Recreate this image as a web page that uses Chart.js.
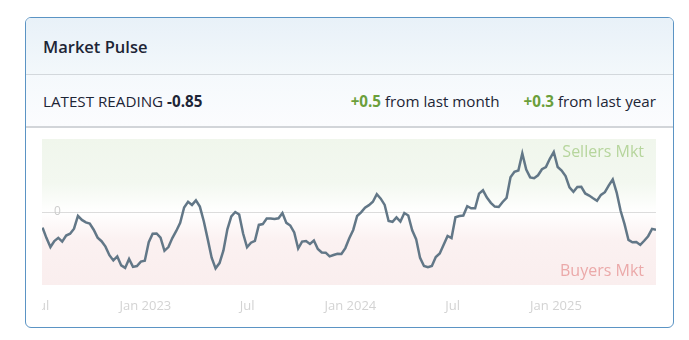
<!DOCTYPE html>
<html>
<head>
<meta charset="utf-8">
<script src="https://cdn.jsdelivr.net/npm/chart.js@4.4.1/dist/chart.umd.min.js"></script>
<style>
  html, body { margin: 0; padding: 0; background: #ffffff; font-family: 'Open Sans', sans-serif; }
  .card { position: absolute; left: 25px; top: 17px; width: 647px; height: 309px;
          border: 1px solid #5b94c4; border-radius: 6px; overflow: hidden; background: #ffffff; }
  .head { position: absolute; left: 0; top: 0; width: 647px; height: 56px;
          background: linear-gradient(#e8f1f8, #f3f8fb); border-bottom: 1px solid #d3d8dc;
          display: flex; align-items: center; box-sizing: content-box; }
  .head span { padding-left: 17px; font-size: 16.5px; font-weight: 600; color: #1d2536; }
  .stats { position: absolute; left: 0; top: 57px; width: 647px; height: 51px;
           background: linear-gradient(#f5f9fc, #fbfcfe); border-bottom: 2px solid #d2d5d9;
           display: flex; align-items: center; justify-content: space-between;
           font-size: 15.2px; color: #1d2536; }
  .stats .left { padding-left: 17px; }
  .stats .right { padding-right: 17px; }
  .stats b { font-weight: 700; }
  .stats .up { color: #6b9f3b; font-weight: 700; }
  .stats .gap { display: inline-block; width: 24px; }
  #wrap { position: absolute; left: 16px; top: 121px; width: 614px; height: 180px; }
</style>
</head>
<body>
<div class="card">
  <div class="head"><span>Market Pulse</span></div>
  <div class="stats">
    <div class="left">LATEST READING <b>-0.85</b></div>
    <div class="right"><span class="up">+0.5</span> from last month<span class="gap"></span><span class="up">+0.3</span> from last year</div>
  </div>
  <div id="wrap"><canvas id="c" width="614" height="180"></canvas></div>
</div>
<script>
// ---- data ----
const startDate = '2022-07-02';   // first weekly reading
const stepDays = 7;               // weekly series
const pulseValues = [
  -0.75, -1.25, -1.68, -1.39, -1.24, -1.42, -1.13, -1.04, -0.80, -0.19,
  -0.38, -0.50, -0.55, -0.85, -1.23, -1.40, -1.66, -2.07, -2.32, -2.13,
  -2.56, -2.68, -2.25, -2.63, -2.59, -2.38, -2.34, -1.45, -1.04, -1.03,
  -1.23, -1.86, -1.68, -1.25, -0.91, -0.52,  0.22,  0.49,  0.34,  0.56,
   0.26, -0.44, -1.30, -2.19, -2.70, -2.45, -1.84, -0.83, -0.21,  0.00,
  -0.12, -1.03, -1.69, -1.47, -1.38, -0.62, -0.58, -0.31, -0.31, -0.34,
  -0.30, -0.05, -0.52, -0.65, -0.98, -1.75, -1.42, -1.39, -1.53, -1.37,
  -1.77, -1.94, -1.95, -2.13, -2.06, -2.00, -2.01, -1.73, -1.26, -0.86,
  -0.19, -0.02,  0.21,  0.33,  0.49,  0.85,  0.64,  0.34, -0.43, -0.47,
  -0.26, -0.46, -0.05, -0.17, -0.88, -1.30, -2.20, -2.59, -2.65, -2.59,
  -2.16, -1.99, -1.57, -1.15, -1.25, -0.25, -0.19, -0.17,  0.28,  0.18,
   0.18,  0.88,  1.04,  0.69,  0.44,  0.26,  0.24,  0.48,  0.68,  1.67,
   1.93,  1.99,  2.81,  2.04,  1.66,  1.62,  1.76,  2.05,  2.15,  2.55,
   2.88,  2.16,  1.99,  1.72,  1.18,  0.97,  1.20,  1.21,  0.89,  0.79,
   0.66,  0.54,  0.82,  0.95,  1.28,  1.56,  0.93,  0.06, -0.58, -1.34,
  -1.45, -1.44, -1.58, -1.38, -1.16, -0.81, -0.85
];
const xMinDate = '2022-07-01';
const xMaxDate = '2025-06-28';
const tickDates  = ['2022-07-01', '2023-01-01', '2023-07-01', '2024-01-01', '2024-07-01', '2025-01-01'];
const tickLabels = ['Jul', 'Jan 2023', 'Jul', 'Jan 2024', 'Jul', 'Jan 2025'];
const yTickValues = [0];
const yMin = -3.5, yMax = 3.5;
const zoneLabels = ['Sellers Mkt', 'Buyers Mkt'];

// ---- helpers ----
function dayNum(s) { const [y, m, d] = s.split('-').map(Number); return Date.UTC(y, m - 1, d) / 86400000; }
const start = dayNum(startDate);
const points = pulseValues.map((v, i) => ({ x: start + i * stepDays, y: v }));

const zonesPlugin = {
  id: 'zones',
  beforeDraw(chart) {
    const { ctx, chartArea: a, scales: { y } } = chart;
    const z = y.getPixelForValue(0);
    ctx.save();
    let g = ctx.createLinearGradient(0, a.top, 0, z);
    g.addColorStop(0, '#f0f6ec');
    g.addColorStop(0.6, '#f3f8f0');
    g.addColorStop(1, '#ffffff');
    ctx.fillStyle = g;
    ctx.fillRect(a.left, a.top, a.width, z - a.top);
    g = ctx.createLinearGradient(0, z, 0, a.bottom);
    g.addColorStop(0, '#ffffff');
    g.addColorStop(0.4, '#fbf1f1');
    g.addColorStop(1, '#faeeee');
    ctx.fillStyle = g;
    ctx.fillRect(a.left, z, a.width, a.bottom - z);
    ctx.font = '16px "Open Sans"';
    ctx.textAlign = 'right';
    ctx.textBaseline = 'middle';
    ctx.fillStyle = '#b6d59c';
    ctx.fillText(zoneLabels[0], a.right - 12, a.top + 13);
    ctx.fillStyle = '#eba9a9';
    ctx.fillText(zoneLabels[1], a.right - 12, a.bottom - 14);
    ctx.restore();
  }
};

new Chart(document.getElementById('c'), {
  type: 'line',
  data: {
    datasets: [{
      data: points,
      borderColor: '#627787',
      borderWidth: 2.5,
      pointRadius: 0,
      tension: 0,
      fill: false
    }]
  },
  options: {
    responsive: false,
    devicePixelRatio: 1,
    animation: false,
    layout: { padding: 0 },
    plugins: { legend: { display: false }, tooltip: { enabled: false } },
    scales: {
      x: {
        type: 'linear',
        min: dayNum(xMinDate),
        max: dayNum(xMaxDate),
        grid: { display: false, drawTicks: false },
        border: { display: false },
        afterBuildTicks: s => { s.ticks = tickDates.map(d => ({ value: dayNum(d) })); },
        afterFit: s => { s.paddingLeft = 0; s.paddingRight = 0; s.height = 34; },
        ticks: {
          autoSkip: false, maxRotation: 0, padding: 13,
          color: '#d3d3d3', font: { family: 'Open Sans', size: 13 },
          callback: (v, i) => tickLabels[i]
        }
      },
      y: {
        min: yMin, max: yMax,
        grid: { color: '#dcdcdc', lineWidth: 1, drawTicks: false },
        border: { display: false },
        afterBuildTicks: s => { s.ticks = yTickValues.map(v => ({ value: v })); },
        afterFit: s => { s.width = 0; s.paddingTop = 0; s.paddingBottom = 0; },
        ticks: {
          mirror: true, padding: 12,
          color: '#cccccc', font: { family: 'Open Sans', size: 12 },
          callback: v => String(v)
        }
      }
    }
  },
  plugins: [zonesPlugin]
});
</script>
</body>
</html>
